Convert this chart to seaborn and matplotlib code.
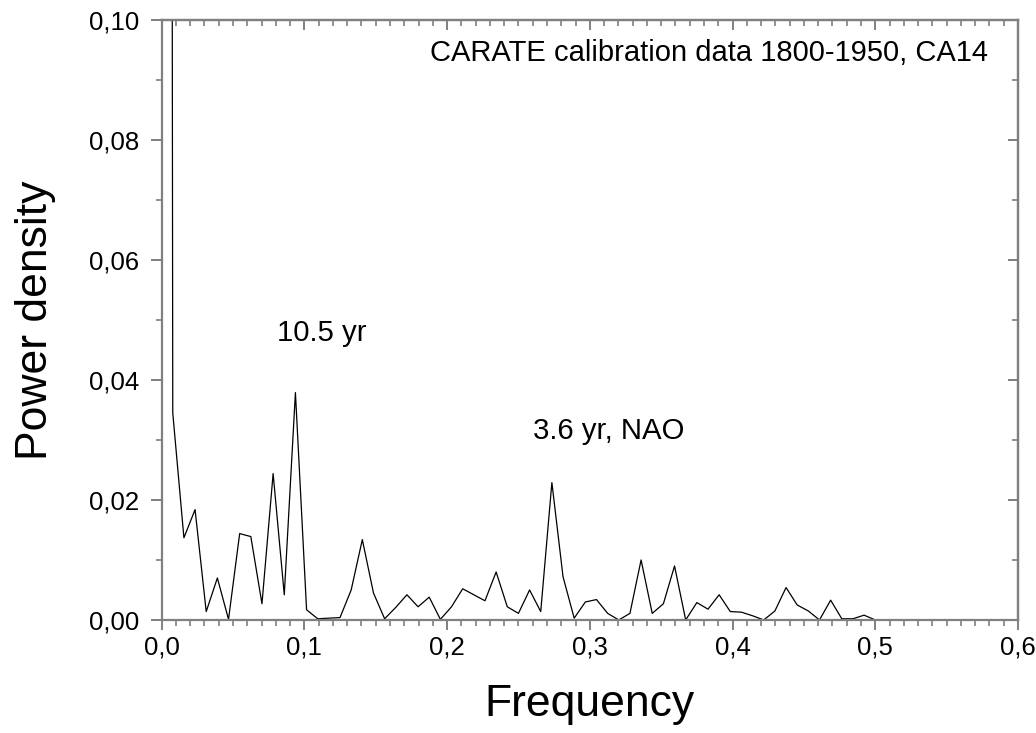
import matplotlib
matplotlib.use("Agg")
import matplotlib.pyplot as plt
from matplotlib.ticker import MultipleLocator, FixedLocator
import numpy as np
import pandas as pd
import seaborn as sns

# ---- data ----
# frequency bins k/128, k = 0..64 (first bin off-scale)
bin_index = list(range(0, 65))
n_fft = 128
power = [
    1.5,
    0.0345, 0.0137, 0.0184, 0.0014, 0.0070, 0.0001, 0.0144, 0.0139, 0.0027, 0.0244,
    0.0042, 0.0379, 0.0017, 0.0002, 0.0003, 0.0004, 0.0050, 0.0134, 0.0045, 0.0002,
    0.0021, 0.0042, 0.0022, 0.0038, 0.0001, 0.0022, 0.0052, 0.0042, 0.0032, 0.0080,
    0.0022, 0.0011, 0.0050, 0.0014, 0.0229, 0.0072, 0.0003, 0.0030, 0.0034, 0.0011,
    0.0000, 0.0011, 0.0100, 0.0011, 0.0027, 0.0090, 0.0000, 0.0029, 0.0018, 0.0042,
    0.0014, 0.0013, 0.0007, 0.0000, 0.0015, 0.0054, 0.0025, 0.0015, 0.0000, 0.0033,
    0.0002, 0.0002, 0.0008, 0.0000,
]
freq = [k / n_fft for k in bin_index]

xtick_values = [0.0, 0.1, 0.2, 0.3, 0.4, 0.5, 0.6]
xtick_labels = ["0,0", "0,1", "0,2", "0,3", "0,4", "0,5", "0,6"]
ytick_values = [0.00, 0.02, 0.04, 0.06, 0.08, 0.10]
ytick_labels = ["0,00", "0,02", "0,04", "0,06", "0,08", "0,10"]

title_text = "CARATE calibration data 1800-1950, CA14"
peak_labels = ["10.5 yr", "3.6 yr, NAO"]
peak_label_pos = [(0.0808, 0.0465), (0.2604, 0.0302)]

# ---- style ----
sns.set_theme(style="ticks")
plt.rcParams["font.family"] = ["Liberation Sans", "DejaVu Sans"]
plt.rcParams["text.color"] = "black"
plt.rcParams["axes.labelcolor"] = "black"

df = pd.DataFrame({"Frequency": freq, "Power density": power})

fig = plt.figure(figsize=(10.36, 7.33), dpi=100)
ax = fig.add_axes([0.156, 0.1542, 0.8266, 0.8185])

sns.lineplot(data=df, x="Frequency", y="Power density", ax=ax,
             color="black", linewidth=0.9, estimator=None, sort=False)

ax.set_xlim(0, 0.6)
ax.set_ylim(0, 0.10)

ax.xaxis.set_major_locator(FixedLocator(xtick_values))
ax.set_xticklabels(xtick_labels)
ax.yaxis.set_major_locator(FixedLocator(ytick_values))
ax.set_yticklabels(ytick_labels)
ax.xaxis.set_minor_locator(MultipleLocator(0.01))
ax.yaxis.set_minor_locator(MultipleLocator(0.01))

spine_color = "#808080"
for s in ax.spines.values():
    s.set_visible(True)
    s.set_color(spine_color)
    s.set_linewidth(1.6)

ax.tick_params(axis="x", which="major", direction="out", length=7, width=1.4,
               color=spine_color, labelsize=18.5, labelcolor="black", pad=4.5)
ax.tick_params(axis="y", which="major", direction="out", length=8, width=1.4,
               color=spine_color, labelsize=18.5, labelcolor="black", pad=8)
ax.tick_params(axis="both", which="minor", direction="out", length=4, width=1.2,
               color=spine_color)

# top/right inward ticks
axt = ax.secondary_xaxis("top")
axt.xaxis.set_major_locator(FixedLocator(xtick_values))
axt.xaxis.set_minor_locator(MultipleLocator(0.01))
axt.tick_params(which="major", direction="in", length=7, width=1.4, color=spine_color, labeltop=False)
axt.tick_params(which="minor", direction="in", length=4, width=1.2, color=spine_color)
axt.spines["top"].set_color(spine_color)
axt.spines["top"].set_linewidth(1.6)

axr = ax.secondary_yaxis("right")
axr.yaxis.set_major_locator(FixedLocator(ytick_values))
axr.yaxis.set_minor_locator(MultipleLocator(0.01))
axr.tick_params(which="major", direction="in", length=7, width=1.4, color=spine_color, labelright=False)
axr.tick_params(which="minor", direction="in", length=4, width=1.2, color=spine_color)
axr.spines["right"].set_color(spine_color)
axr.spines["right"].set_linewidth(1.6)

ax.set_xlabel("Frequency", fontsize=32, va="baseline")
ax.set_ylabel("Power density", fontsize=32, va="baseline")
ax.xaxis.set_label_coords(0.5, -0.16)
ax.yaxis.set_label_coords(-0.1343, 0.5)

ax.text(0.188, 0.0932, title_text, fontsize=21.0, ha="left", va="baseline")
for lab, (px, py) in zip(peak_labels, peak_label_pos):
    ax.text(px, py, lab, fontsize=21.2, ha="left", va="baseline")

fig.savefig("out.png", dpi=100)
